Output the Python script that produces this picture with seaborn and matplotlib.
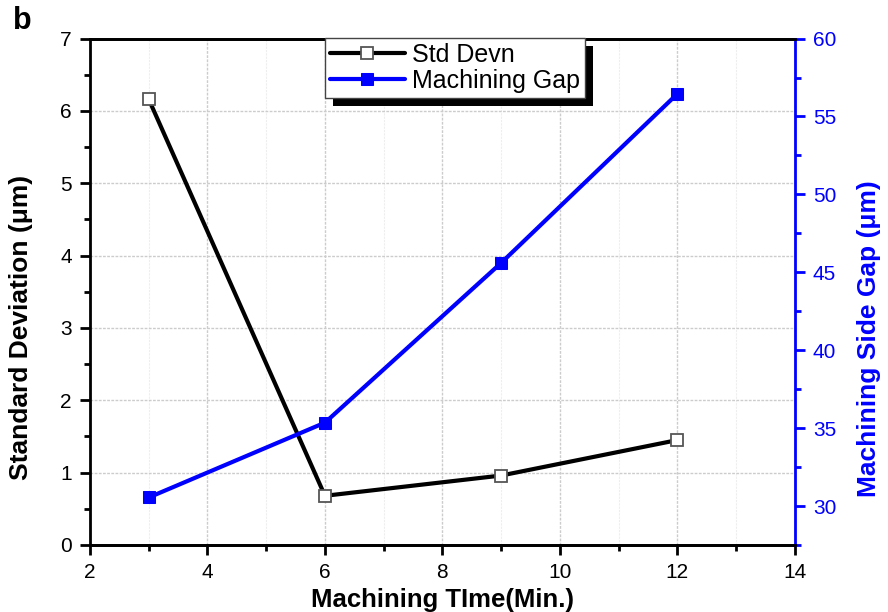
import matplotlib
matplotlib.use("Agg")
import matplotlib.pyplot as plt
import seaborn as sns
import pandas as pd
from matplotlib.ticker import MultipleLocator
from matplotlib.patches import Rectangle

sns.set_theme(style="white")
plt.rcParams['font.family'] = ['Liberation Sans', 'DejaVu Sans']
plt.rcParams['text.color'] = 'black'
plt.rcParams['axes.labelcolor'] = 'black'
plt.rcParams['xtick.color'] = 'black'
plt.rcParams['ytick.color'] = 'black'

time_min = [3, 6, 9, 12]
std_devn = [6.16, 0.68, 0.96, 1.45]
machining_gap = [30.55, 35.35, 45.6, 56.45]

df = pd.DataFrame({"time": time_min, "std": std_devn, "gap": machining_gap})

fig = plt.figure(figsize=(8.88, 6.12), dpi=100)
ax = fig.add_axes([0.1014, 0.1095, 0.7936, 0.8275])
ax2 = ax.twinx()

sns.lineplot(data=df, x="time", y="std", ax=ax, color="black", lw=3,
             marker="s", markersize=8, markerfacecolor="white",
             markeredgecolor="#555555", markeredgewidth=1.3, label="Std Devn", legend=False)
sns.lineplot(data=df, x="time", y="gap", ax=ax2, color="#0000ff", lw=3,
             marker="s", markersize=8, markerfacecolor="#0000ff",
             markeredgecolor="#0000ff", label="Machining Gap", legend=False)

ax.set_xlim(2, 14)
ax.set_ylim(0, 7)
ax2.set_ylim(27.5, 60)
ax.xaxis.set_major_locator(MultipleLocator(2))
ax.xaxis.set_minor_locator(MultipleLocator(1))
ax.yaxis.set_major_locator(MultipleLocator(1))
ax.yaxis.set_minor_locator(MultipleLocator(0.5))
ax2.yaxis.set_major_locator(MultipleLocator(5))
ax2.yaxis.set_minor_locator(MultipleLocator(2.5))

ax.grid(True, which="major", color="#cccccc", lw=1, ls=(0, (2, 1)))
ax.grid(True, which="minor", axis="x", color="#eeeeee", lw=0.8, ls=(0, (2, 1)))

for a in (ax, ax2):
    for s in a.spines.values():
        s.set_linewidth(2)
        s.set_color("black")
ax2.spines["right"].set_color("#0000ff")
ax2.spines["left"].set_visible(False)
ax.spines["right"].set_visible(False)

ax.tick_params(axis="both", which="major", direction="out", length=7, width=2,
               labelsize=15, colors="black", left=True, bottom=True, pad=6)
ax.tick_params(axis="both", which="minor", direction="out", length=4, width=2,
               left=True, bottom=True)
ax2.tick_params(axis="y", which="major", direction="out", length=7, width=2,
                labelsize=15, colors="#0000ff", right=True, pad=6)
ax2.tick_params(axis="y", which="minor", direction="out", length=4, width=2,
                color="#0000ff", right=True)

ax.set_xlabel("Machining TIme(Min.)", fontsize=18.5, fontweight="bold", labelpad=4)
ax.set_ylabel("Standard Deviation (\u03bcm)", fontsize=19, fontweight="bold")
ax2.set_ylabel("Machining Side Gap (\u03bcm)", fontsize=19, fontweight="bold",
               color="#0000ff")
ax.yaxis.set_label_coords(-0.081, 0.43)
ax2.yaxis.set_label_coords(1.089, 0.408)

fig.text(0.015, 0.952, "b", fontsize=22, fontweight="bold", color="black")

h1, l1 = ax.get_legend_handles_labels()
h2, l2 = ax2.get_legend_handles_labels()
leg = ax2.legend(h1 + h2, l1 + l2, loc="upper left", bbox_to_anchor=(0.333, 1.002),
                 fontsize=18, frameon=True, fancybox=False, framealpha=1,
                 edgecolor="#444444", handlelength=3.0, handletextpad=0.3,
                 borderpad=0.2, labelspacing=0.08, borderaxespad=0)
leg.get_frame().set_linewidth(1)
leg.set_zorder(10)

fig.canvas.draw()
bb = leg.get_window_extent()
inv = fig.transFigure.inverted()
(x0, y0) = inv.transform((bb.x0 + 8, bb.y0 - 8))
(x1, y1) = inv.transform((bb.x1 + 8, bb.y1 - 8))
shadow = Rectangle((x0, y0), x1 - x0, y1 - y0, transform=fig.transFigure,
                   facecolor="black", edgecolor="none", zorder=9)
ax2.add_artist(shadow)
shadow.set_clip_on(False)

fig.savefig("out.png", dpi=100)
